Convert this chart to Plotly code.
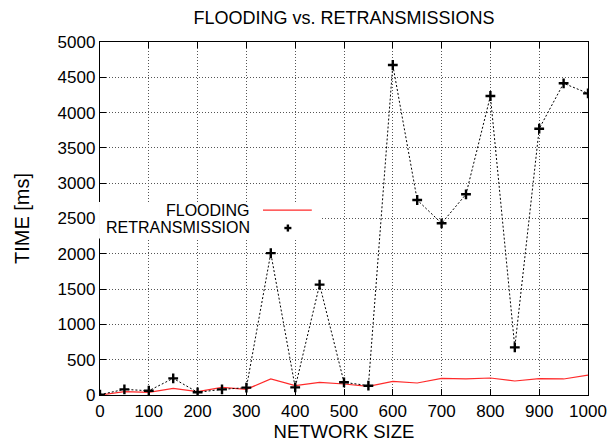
import plotly.graph_objects as go

network_size = [0, 50, 100, 150, 200, 250, 300, 350, 400, 450, 500,
                550, 600, 650, 700, 750, 800, 850, 900, 950, 1000]
flooding = [0, 47, 38, 95, 47, 109, 80, 227, 132, 180, 156,
            123, 194, 170, 236, 227, 241, 198, 231, 227, 283]
retransmission = [5, 80, 60, 236, 38, 80, 104, 2010, 108, 1563, 180,
                  132, 4674, 2762, 2432, 2843, 4235, 675, 3772, 4415, 4273]
x_ticks = list(range(0, 1001, 100))
y_ticks = list(range(0, 5001, 500))

FONT = "Liberation Sans, Arial, Helvetica, sans-serif"

fig = go.Figure()
fig.add_trace(go.Scatter(
    x=network_size, y=flooding, mode="lines", name="FLOODING",
    line=dict(color="#ff2a2a", width=1.2), showlegend=False))
fig.add_trace(go.Scatter(
    x=network_size, y=retransmission, mode="lines+markers", name="RETRANSMISSION",
    line=dict(color="black", width=1, dash="2px,2px"),
    marker=dict(symbol="cross-thin", size=7, line=dict(color="black", width=2.4)),
    showlegend=False))

axis_common = dict(
    showline=True, linecolor="black", linewidth=1.3, mirror="ticks",
    ticks="inside", ticklen=6, tickcolor="black", tickwidth=1,
    showgrid=True, gridcolor="#555", griddash="1px,2px", gridwidth=1,
    zeroline=False, automargin=False,
    tickfont=dict(family=FONT, size=17, color="black"),
)
fig.update_xaxes(range=[0, 1000], tickvals=x_ticks, ticktext=[str(v) for v in x_ticks],
                 title=dict(text="NETWORK SIZE", font=dict(family=FONT, size=18.5, color="black"), standoff=2),
                 **axis_common)
fig.update_yaxes(range=[0, 5000], tickvals=y_ticks, ticktext=[str(v) for v in y_ticks],
                 title=dict(text="TIME [ms]", font=dict(family=FONT, size=20, color="black"), standoff=22),
                 **axis_common)

# legend (gnuplot style: text right-aligned, sample on the right)
fig.add_shape(type="rect", xref="paper", yref="paper", x0=-0.002, x1=0.452, y0=0.443, y1=0.547,
              fillcolor="white", line=dict(width=0), layer="above")
fig.add_annotation(xref="paper", yref="paper", x=0.312, y=0.524, text="FLOODING",
                   showarrow=False, xanchor="right", yanchor="middle",
                   font=dict(family=FONT, size=16, color="black"))
fig.add_annotation(xref="paper", yref="paper", x=0.312, y=0.474, text="RETRANSMISSION",
                   showarrow=False, xanchor="right", yanchor="middle",
                   font=dict(family=FONT, size=16, color="black"))
fig.add_shape(type="line", xref="paper", yref="paper", x0=0.334, x1=0.434, y0=0.524, y1=0.524,
              line=dict(color="#ff2a2a", width=1.2), layer="above")
# legend "+" glyph
fig.add_shape(type="line", xref="paper", yref="paper", x0=0.3778, x1=0.3922, y0=0.473, y1=0.473,
              line=dict(color="black", width=2.4), layer="above")
fig.add_shape(type="line", xref="paper", yref="paper", x0=0.385, x1=0.385, y0=0.463, y1=0.483,
              line=dict(color="black", width=2.4), layer="above")

fig.update_layout(
    width=611, height=446,
    margin=dict(l=100, r=23, t=42, b=51),
    paper_bgcolor="white", plot_bgcolor="white",
    title=dict(text="FLOODING vs. RETRANSMISSIONS", x=0.563, xanchor="center", y=0.96, yanchor="middle",
               font=dict(family=FONT, size=18, color="black")),
)
fig.write_html("out.html")
